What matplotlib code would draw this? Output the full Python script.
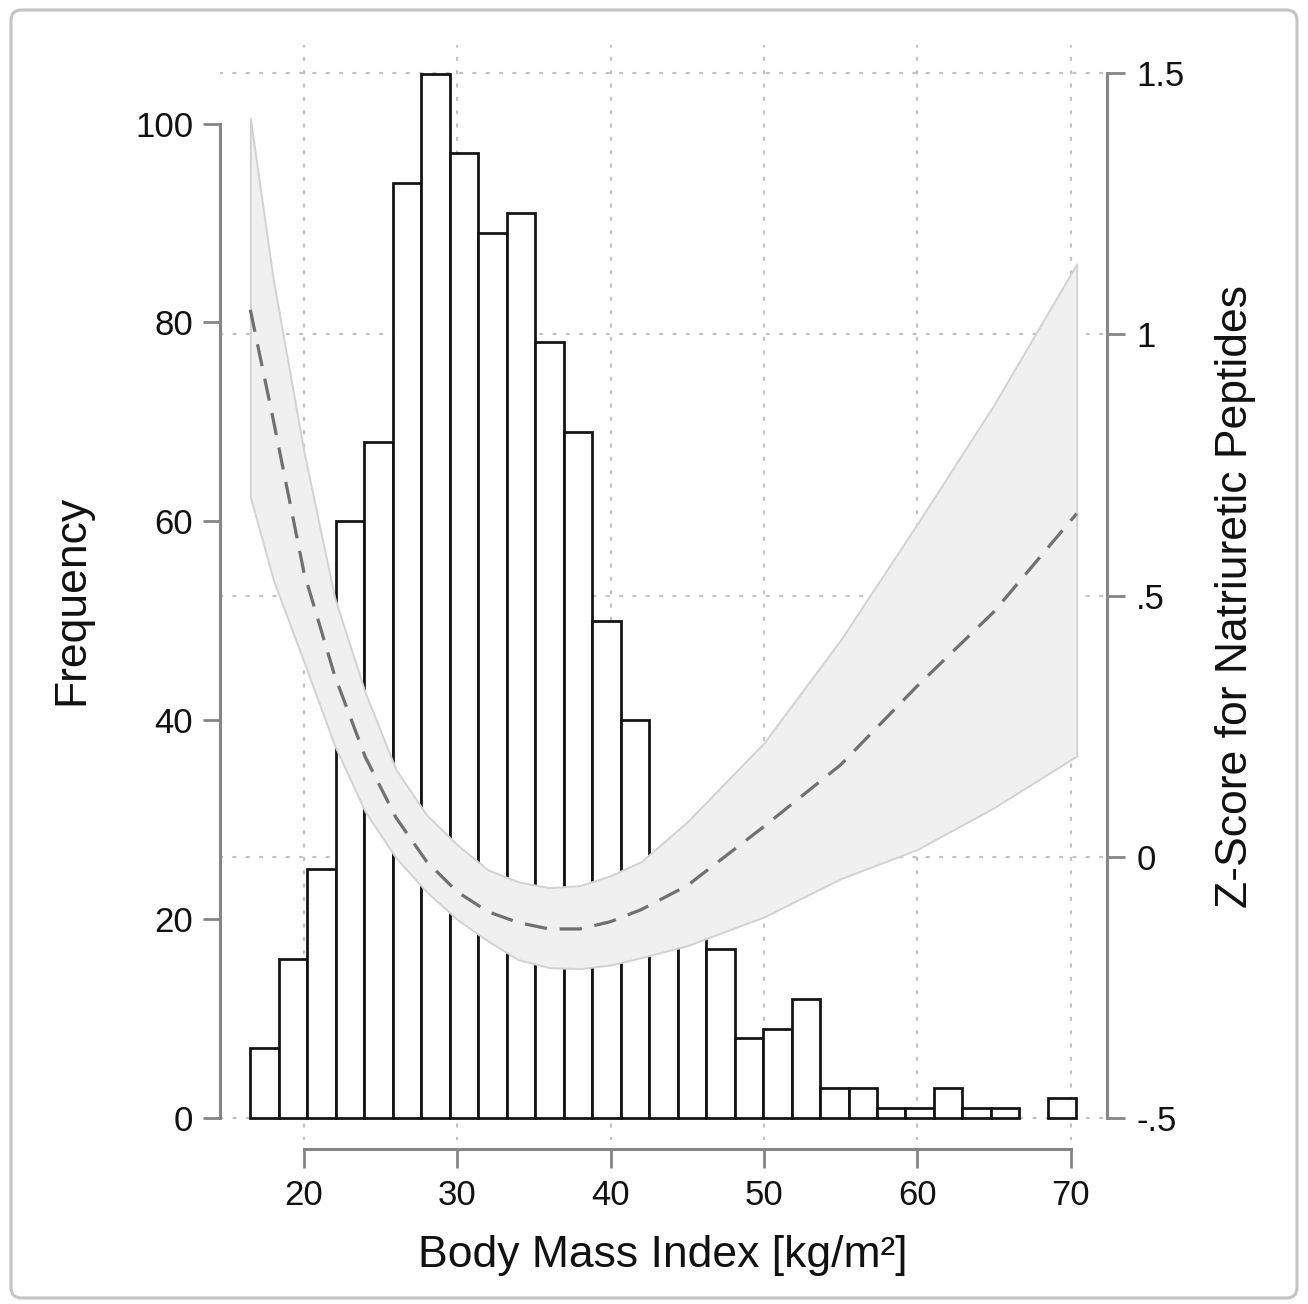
import numpy as np
import matplotlib
matplotlib.use("Agg")
import matplotlib.pyplot as plt
from matplotlib.patches import FancyBboxPatch
from matplotlib.transforms import blended_transform_factory

plt.rcParams['font.family'] = ['Liberation Sans', 'DejaVu Sans']

# histogram of BMI
bin_start = 16.5
bin_width = 1.858
counts = [7, 16, 25, 60, 68, 94, 105, 97, 89, 91, 78, 69, 50, 40, 25, 20, 17, 8, 9,
          12, 3, 3, 1, 1, 3, 1, 1, 0, 2]

# spline fit of z-score with 95% band
bmi = [16.5, 18, 20, 22, 24, 26, 28, 30, 32, 34, 36, 38, 40, 42, 45, 50, 55, 60, 65, 70.4]
z_fit = [1.047, 0.836, 0.544, 0.347, 0.191, 0.075, -0.009, -0.067, -0.105, -0.126,
         -0.138, -0.138, -0.124, -0.101, -0.055, 0.058, 0.176, 0.327, 0.469, 0.657]
z_hi = [1.414, 1.104, 0.775, 0.496, 0.314, 0.167, 0.080, 0.023, -0.025, -0.048,
        -0.059, -0.055, -0.036, -0.009, 0.067, 0.218, 0.415, 0.637, 0.865, 1.135]
z_lo = [0.689, 0.530, 0.373, 0.213, 0.086, -0.002, -0.067, -0.120, -0.161, -0.197,
        -0.212, -0.214, -0.207, -0.193, -0.170, -0.115, -0.042, 0.014, 0.094, 0.193]

x_ticks = [20, 30, 40, 50, 60, 70]
freq_ticks = [0, 20, 40, 60, 80, 100]
z_ticks = [-0.5, 0, 0.5, 1, 1.5]
z_labels = ['-.5', '0', '.5', '1', '1.5']

W, H = 1308, 1304
fig = plt.figure(figsize=(W / 100, H / 100), dpi=100)

# frame around the whole graph
frame = FancyBboxPatch((11 / W, 6 / H), 1286 / W, 1288 / H,
                       boxstyle="round,pad=0,rounding_size=0.008",
                       transform=fig.transFigure, facecolor='white',
                       edgecolor='#c4c4c4', lw=2.2, zorder=-10)
fig.patches.append(frame)

ax = fig.add_axes([220 / W, 1 - 1140 / H, (1107 - 220) / W, (1140 - 45) / H])
ax.patch.set_alpha(0)
ax2 = ax.twinx()

ax.set_xlim(14.52, 72.38)
ax.set_ylim(-2.21, 107.9)
ax2.set_ylim(-0.542, 1.554)

grid_kw = dict(color='#c2c2c2', lw=1.6, linestyle=(0, (1, 5)),
               dash_capstyle='round', zorder=0.5)
for xv in x_ticks:
    ax.axvline(xv, **grid_kw)
ht = blended_transform_factory(ax.transAxes, ax2.transData)
for zv in z_ticks:
    ax.plot([0, 1], [zv, zv], transform=ht, **grid_kw)

counts = np.array(counts)
lefts = bin_start + bin_width * np.arange(len(counts))
keep = counts > 0
ax.bar(lefts[keep], counts[keep], width=bin_width, align='edge',
       facecolor='white', edgecolor='#151515', lw=2.0, zorder=2)

ax2.fill_between(bmi, z_lo, z_hi, facecolor='#f0f0f0', edgecolor='#d2d2d2',
                 lw=1.4, zorder=1)
ax2.plot(bmi, z_fit, color='#707070', lw=2.3, dashes=(7, 4), zorder=2)

spine_c = '#858585'
for a in (ax, ax2):
    for s in ('top',):
        a.spines[s].set_visible(False)
ax.spines['right'].set_visible(False)
ax2.spines['left'].set_visible(False)
ax2.spines['bottom'].set_visible(False)

ax.spines['left'].set_bounds(0, 100)
ax.spines['left'].set_color(spine_c)
ax.spines['left'].set_linewidth(2.2)
ax.spines['bottom'].set_position(('outward', 6.5))
ax.spines['bottom'].set_bounds(20, 70)
ax.spines['bottom'].set_color(spine_c)
ax.spines['bottom'].set_linewidth(2.2)
ax2.spines['right'].set_bounds(-0.5, 1.5)
ax2.spines['right'].set_color(spine_c)
ax2.spines['right'].set_linewidth(2.2)

ax.set_xticks(x_ticks)
ax.set_yticks(freq_ticks)
ax2.set_yticks(z_ticks)
ax2.set_yticklabels(z_labels)

ax.tick_params(axis='y', length=12.2, width=2.0, color=spine_c, pad=7,
               labelsize=25, labelcolor='#111111')
ax.tick_params(axis='x', length=13.7, width=2.0, color=spine_c, pad=8,
               labelsize=25, labelcolor='#111111')
ax2.tick_params(axis='y', length=13, width=2.0, color=spine_c, pad=8,
                labelsize=25, labelcolor='#111111')

fig.text(72 / W, 1 - 600 / H, 'Frequency', rotation=90, ha='center', va='center',
         fontsize=32, color='#111111')
fig.text(1236 / W, 1 - 597 / H, 'Z-Score for Natriuretic Peptides', rotation=90,
         ha='center', va='center', fontsize=32, color='#111111')
fig.text(663 / W, 1 - 1255 / H, 'Body Mass Index [kg/m²]', ha='center', va='center',
         fontsize=32, color='#111111')

fig.savefig('out.png', dpi=100, facecolor='white')
